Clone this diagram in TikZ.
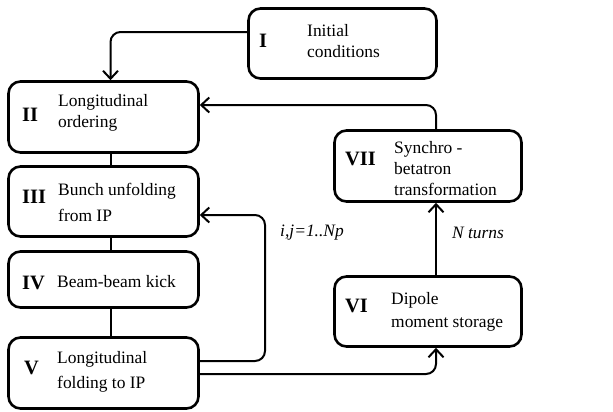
\documentclass[tikz,border=0pt]{standalone}
\usepackage{fontspec}
\setmainfont{Liberation Serif}
\usepackage{tikz}
\usetikzlibrary{calc,arrows.meta,positioning}

\begin{document}
\begin{tikzpicture}[x=1bp, y=-1bp,
    box/.style={draw, line width=2.6bp, rounded corners=12bp, inner sep=0},
    num/.style={inner sep=0, font=\fontsize{20.5}{24}\selectfont\bfseries},
    txt/.style={inner sep=0, align=left, font=\fontsize{17.5}{21}\selectfont},
    lbl/.style={inner sep=0, font=\fontsize{17.5}{21}\selectfont\itshape},
    link/.style={line width=2bp},
    arr/.style={line width=2bp, -{Straight Barb[length=8bp, width=15bp, line width=2bp]}}]
  \useasboundingbox (0,0) rectangle (613,411);
  % Boxes
  \node[box, minimum width=188bp, minimum height=70bp] (b1) at (342.5, 43.5) {};
  \node[box, minimum width=190bp, minimum height=71bp] (b2) at (103.5, 117) {};
  \node[box, minimum width=190bp, minimum height=70bp] (b3) at (103.5, 201.5) {};
  \node[box, minimum width=190bp, minimum height=56bp] (b4) at (103.5, 279.5) {};
  \node[box, minimum width=190bp, minimum height=71bp] (b5) at (103.5, 373) {};
  \node[box, minimum width=187bp, minimum height=70bp] (b6) at (428, 311.5) {};
  \node[box, minimum width=187bp, minimum height=71bp] (b7) at (428, 166) {};
  % Step numbers
  \node[num, anchor=west] (n1) at (259, 40.5) {I};
  \node[num, anchor=west] (n2) at (22, 115) {II};
  \node[num, anchor=west] (n3) at (22, 197) {III};
  \node[num, anchor=west] (n4) at (22, 283) {IV};
  \node[num, anchor=west] (n5) at (24, 368) {V};
  \node[num, anchor=west] (n6) at (345, 306) {VI};
  \node[num, anchor=west] (n7) at (345, 159) {VII};
  % Step texts
  \node[txt, anchor=west] (t1) at (307, 41) {Initial\\conditions};
  \node[txt, anchor=west] (t2) at (58, 113) {Longitudinal\\ordering};
  \node[txt, anchor=west] (t3) at (58, 202) {Bunch unfolding\\[5bp]from IP};
  \node[txt, anchor=west] (t4) at (57, 282) {Beam-beam kick};
  \node[txt, anchor=west] (t5) at (57, 371.5) {Longitudinal\\[4bp]folding to IP};
  \node[txt, anchor=west] (t6) at (391, 311.5) {Dipole\\[2bp]moment storage};
  \node[txt, anchor=west] (t7) at (394, 168.5) {Synchro -\\betatron\\transformation};
  % Loop labels
  \node[lbl] (lloop) at (312, 233) {i,j=1..Np};
  \node[lbl] (lturns) at (478, 233) {N turns};
  % Connectors
  \coordinate (jloop) at (265, 0);
  \coordinate (c3in) at ([yshift=-13.5bp]b3.east);
  \coordinate (c5out) at ([yshift=12bp]b5.east);
  \draw[arr, rounded corners=10bp] ([yshift=11.5bp]b1.west) -| ([xshift=7bp]b2.north);
  \draw[link] ([xshift=7bp]b2.south) -- ([xshift=7bp]b3.north);
  \draw[link] ([xshift=7bp]b3.south) -- ([xshift=7bp]b4.north);
  \draw[link] ([xshift=7bp]b4.south) -- ([xshift=7bp]b5.north);
  \draw[arr, rounded corners=10bp] (c5out) -| (jloop |- c3in) -- (c3in);
  \draw[arr, rounded corners=10bp] ([yshift=-1bp]b5.east) -| ([xshift=8bp]b6.south);
  \draw[arr] ([xshift=8bp]b6.north) -- ([xshift=8bp]b7.south);
  \draw[arr, rounded corners=10bp] ([xshift=8bp]b7.north) |- ([yshift=12bp]b2.east);
\end{tikzpicture}
\end{document}
